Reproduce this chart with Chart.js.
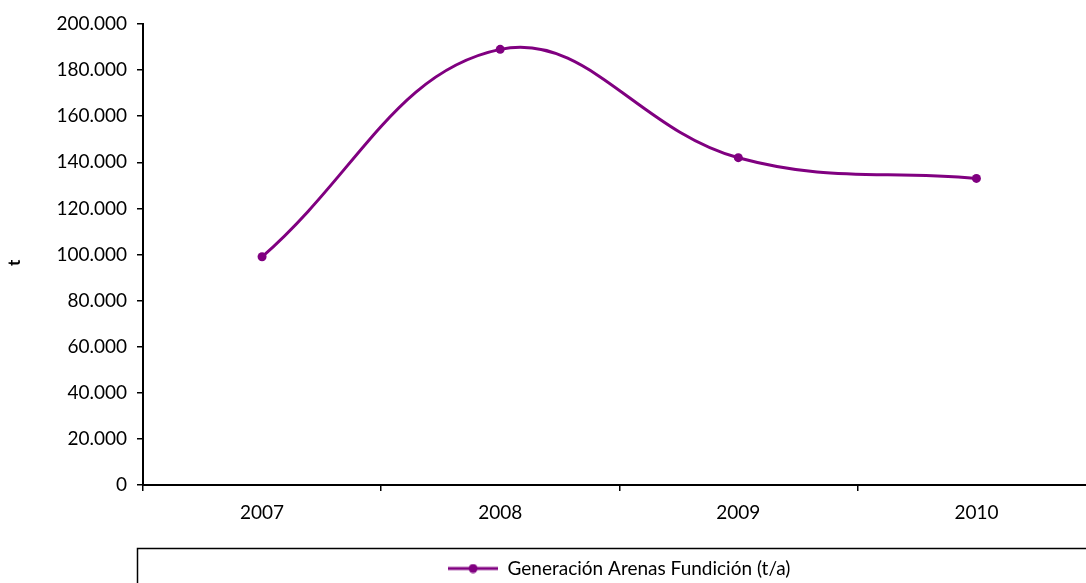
<!DOCTYPE html>
<html>
<head>
<meta charset="utf-8">
<script src="https://cdn.jsdelivr.net/npm/chart.js@4"></script>
<style>
  html, body { margin: 0; padding: 0; background: #fff; overflow: hidden; width: 1086px; height: 583px; }
  #wrap { width: 1100px; height: 583px; }
</style>
</head>
<body>
<div id="wrap"><canvas id="chart"></canvas></div>
<script>
// Datos
const years = ['2007', '2008', '2009', '2010'];
const arenas = [99000, 189000, 142000, 133000];
const yTicks = [0, 20000, 40000, 60000, 80000, 100000, 120000, 140000, 160000, 180000, 200000];

const purple = '#800080';
const font = { family: 'Lato', size: 19 };

function fmt(v) {
    return String(v).replace(/\B(?=(\d{3})+(?!\d))/g, '.');
}

// icono de leyenda: línea con punto
function legendIcon() {
    const c = document.createElement('canvas');
    c.width = 50; c.height = 10;
    const g = c.getContext('2d');
    g.strokeStyle = purple;
    g.lineWidth = 3;
    g.beginPath(); g.moveTo(0, 5); g.lineTo(50, 5); g.stroke();
    g.fillStyle = purple;
    g.beginPath(); g.arc(25, 5, 4.5, 0, Math.PI * 2); g.fill();
    return c;
}
const icon = legendIcon();

// caja alrededor de la leyenda
const legendBox = {
    id: 'legendBox',
    afterDraw(chart) {
        const lg = chart.legend;
        const ctx = chart.ctx;
        ctx.save();
        ctx.strokeStyle = '#000';
        ctx.lineWidth = 1.5;
        ctx.strokeRect(137.5, lg.top + 0.5, chart.width, 100);
        ctx.restore();
    }
};

new Chart(document.getElementById('chart'), {
    type: 'line',
    data: {
        labels: years,
        datasets: [{
            label: 'Generación Arenas Fundición (t/a)',
            data: arenas,
            borderColor: purple,
            backgroundColor: purple,
            borderWidth: 3,
            pointRadius: 4.5,
            pointBackgroundColor: purple,
            pointBorderWidth: 0,
            tension: 0.4
        }]
    },
    options: {
        responsive: true,
        maintainAspectRatio: false,
        animation: false,
        layout: { padding: { top: 24, left: 0, right: 3, bottom: -5 } },
        plugins: {
            tooltip: { enabled: false },
            legend: {
                position: 'bottom',
                fullSize: false,
                labels: {
                    color: '#000',
                    font: font,
                    usePointStyle: true,
                    pointStyleWidth: 50,
                    padding: 11,
                    generateLabels(chart) {
                        const ds = chart.data.datasets[0];
                        return [{ text: ds.label, pointStyle: icon, fillStyle: purple, strokeStyle: purple, lineWidth: 0, datasetIndex: 0, fontColor: '#000' }];
                    }
                },
                onClick: null
            }
        },
        scales: {
            x: {
                offset: true,
                grid: { offset: true, drawOnChartArea: false, color: '#000', tickLength: 6, lineWidth: 1.5 },
                border: { color: '#000', width: 2 },
                ticks: { color: '#000', font: font, padding: 10, maxRotation: 0 },
                afterFit(scale) { scale.height = 63; }
            },
            y: {
                min: 0,
                max: 200000,
                afterBuildTicks(scale) { scale.ticks = yTicks.map(v => ({ value: v })); },
                grid: { drawOnChartArea: false, color: '#000', tickLength: 6, lineWidth: 1.5 },
                border: { color: '#000', width: 2 },
                ticks: { color: '#000', font: font, padding: 10, callback: v => fmt(v) },
                title: { display: true, text: 't\u00A0\u00A0\u00A0\u00A0', color: '#000', font: { family: 'Lato', size: 17, weight: 'bold' }, padding: 4 },
                afterFit(scale) { scale.width = 143; }
            }
        }
    },
    plugins: [legendBox]
});
</script>
</body>
</html>
